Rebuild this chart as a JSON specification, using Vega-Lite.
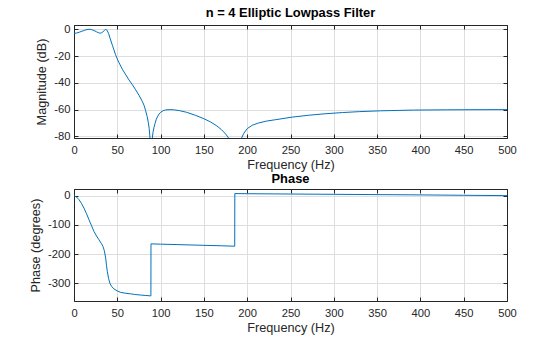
{
  "$schema": "https://vega.github.io/schema/vega-lite/v6.json",
  "padding": {"left": 29, "top": 6, "right": 5, "bottom": 0},
  "spacing": 0,
  "background": "white",
  "config": {
    "view": {"stroke": "#262626", "strokeWidth": 1},
    "font": "Liberation Sans",
    "axis": {
      "labelFont": "Liberation Sans", "titleFont": "Liberation Sans",
      "labelFontSize": 11.2, "titleFontSize": 12.7, "titleFontWeight": "normal",
      "labelColor": "#262626", "titleColor": "#262626",
      "domainColor": "#262626", "tickColor": "#262626", "domainWidth": 1, "tickWidth": 1,
      "gridColor": "#dedede", "gridWidth": 1,
      "tickSize": -4, "labelPadding": 8, "titlePadding": 3,
      "labelFlush": false,
      "labelExpr": "'' + datum.value"
    },
    "axisX": {"labelPadding": 10.5, "titlePadding": 3},
    "axisY": {"labelPadding": 8, "titlePadding": 5},
    "title": {"font": "Liberation Sans", "fontSize": 12.9, "fontWeight": "bold", "color": "#000000", "offset": 3, "anchor": "middle", "frame": "group"}
  },
  "datasets": {
    "mag": [
      {"f": 0, "db": -3.0}, {"f": 3, "db": -2.8}, {"f": 6, "db": -2.2}, {"f": 9, "db": -1.5},
      {"f": 12, "db": -0.8}, {"f": 15, "db": -0.2}, {"f": 17.5, "db": 0}, {"f": 20, "db": -0.2},
      {"f": 23, "db": -0.9}, {"f": 26, "db": -1.9}, {"f": 28.5, "db": -2.6}, {"f": 30.5, "db": -2.9},
      {"f": 32, "db": -2.6}, {"f": 33.5, "db": -1.8}, {"f": 35, "db": -0.9}, {"f": 36.6, "db": -0.1},
      {"f": 37.5, "db": -0.3}, {"f": 38.5, "db": -1.2}, {"f": 40, "db": -3.3}, {"f": 42.3, "db": -8},
      {"f": 44.3, "db": -11.9}, {"f": 46.1, "db": -15.4}, {"f": 48, "db": -19}, {"f": 50, "db": -22.2},
      {"f": 52, "db": -25}, {"f": 55.8, "db": -29.8}, {"f": 60, "db": -34.2}, {"f": 63.5, "db": -37.8},
      {"f": 67.5, "db": -41.5}, {"f": 71.2, "db": -45.2}, {"f": 75, "db": -49.2}, {"f": 78.9, "db": -53.9},
      {"f": 81, "db": -57}, {"f": 82.7, "db": -60.8}, {"f": 84.5, "db": -65.2}, {"f": 85.8, "db": -69.5},
      {"f": 86.8, "db": -74}, {"f": 87.5, "db": -79}, {"f": 88.2, "db": -86}, {"f": 88.9, "db": -100},
      {"f": 89.6, "db": -88}, {"f": 90.4, "db": -81.5}, {"f": 91.2, "db": -77}, {"f": 92.3, "db": -73.5},
      {"f": 93.5, "db": -70.5}, {"f": 95, "db": -67.2}, {"f": 97.5, "db": -64}, {"f": 100, "db": -62},
      {"f": 103, "db": -60.8}, {"f": 106, "db": -60.2}, {"f": 111, "db": -60}, {"f": 116, "db": -60.2},
      {"f": 122, "db": -60.8}, {"f": 130, "db": -62}, {"f": 140, "db": -64.2}, {"f": 150, "db": -66.8},
      {"f": 158, "db": -69.3}, {"f": 165, "db": -72.2}, {"f": 170, "db": -74.8}, {"f": 174, "db": -77.4},
      {"f": 177, "db": -79.8}, {"f": 179, "db": -81.8}, {"f": 181.5, "db": -85}, {"f": 183.5, "db": -90},
      {"f": 185.7, "db": -110}, {"f": 188, "db": -90}, {"f": 190.5, "db": -85}, {"f": 193.5, "db": -81.3},
      {"f": 196, "db": -77.8}, {"f": 200, "db": -74.2}, {"f": 206, "db": -71.6}, {"f": 213, "db": -70},
      {"f": 222, "db": -68.6}, {"f": 233, "db": -67.5}, {"f": 252, "db": -65.6}, {"f": 271, "db": -64.2},
      {"f": 290, "db": -63.1}, {"f": 310, "db": -62.2}, {"f": 330, "db": -61.5}, {"f": 354, "db": -60.9},
      {"f": 375, "db": -60.6}, {"f": 392, "db": -60.35}, {"f": 430, "db": -60.15}, {"f": 470, "db": -60.05},
      {"f": 500, "db": -60.0}
    ],
    "phase": [
      {"f": 0, "deg": 0}, {"f": 3, "deg": -5}, {"f": 5.8, "deg": -13.7}, {"f": 8.5, "deg": -26},
      {"f": 11.5, "deg": -42.6}, {"f": 14.5, "deg": -62}, {"f": 17.3, "deg": -82.4}, {"f": 20, "deg": -101},
      {"f": 23.1, "deg": -122.6}, {"f": 26, "deg": -138}, {"f": 28.8, "deg": -151}, {"f": 31.5, "deg": -163},
      {"f": 33.5, "deg": -174}, {"f": 35, "deg": -188}, {"f": 36.6, "deg": -214}, {"f": 37.6, "deg": -240},
      {"f": 38.5, "deg": -260}, {"f": 40, "deg": -284}, {"f": 41.5, "deg": -300}, {"f": 43.5, "deg": -311},
      {"f": 46.1, "deg": -319}, {"f": 50, "deg": -326}, {"f": 53.9, "deg": -331}, {"f": 60, "deg": -334},
      {"f": 65.4, "deg": -336}, {"f": 70, "deg": -338}, {"f": 76.9, "deg": -340}, {"f": 83, "deg": -341.5},
      {"f": 88.8, "deg": -343}, {"f": 88.9, "deg": -165}, {"f": 100, "deg": -166}, {"f": 120, "deg": -167.5},
      {"f": 150, "deg": -170}, {"f": 170, "deg": -171.5}, {"f": 185.6, "deg": -173}, {"f": 185.7, "deg": 7},
      {"f": 200, "deg": 6.6}, {"f": 250, "deg": 5.5}, {"f": 300, "deg": 4.5}, {"f": 350, "deg": 3.5},
      {"f": 400, "deg": 2.5}, {"f": 450, "deg": 1.2}, {"f": 500, "deg": 0}
    ]
  },
  "vconcat": [
    {
      "width": 433, "height": 113,
      "title": {"text": "n = 4 Elliptic Lowpass Filter"},
      "data": {"name": "mag"},
      "layer": [
        {
          "mark": {"type": "line", "clip": true, "color": "#0072BD", "strokeWidth": 1},
          "encoding": {
            "x": {"field": "f", "type": "quantitative", "scale": {"domain": [0, 500], "nice": false, "zero": false},
                  "axis": {"title": "Frequency (Hz)", "values": [0, 50, 100, 150, 200, 250, 300, 350, 400, 450, 500]}},
            "y": {"field": "db", "type": "quantitative", "scale": {"domain": [-81.2, 3.2], "nice": false, "zero": false},
                  "axis": {"title": "Magnitude (dB)", "values": [-80, -60, -40, -20, 0]}}
          }
        },
        {
          "mark": {"type": "line", "clip": true, "opacity": 0},
          "encoding": {
            "x": {"field": "f", "type": "quantitative",
                  "axis": {"orient": "top", "labels": false, "title": null, "grid": false, "values": [0, 50, 100, 150, 200, 250, 300, 350, 400, 450, 500]}},
            "y": {"field": "db", "type": "quantitative",
                  "axis": {"orient": "right", "labels": false, "title": null, "grid": false, "values": [-80, -60, -40, -20, 0]}}
          }
        }
      ],
      "resolve": {"axis": {"x": "independent", "y": "independent"}}
    },
    {
      "width": 433, "height": 112,
      "title": {"text": "Phase"},
      "data": {"name": "phase"},
      "layer": [
        {
          "mark": {"type": "line", "clip": true, "color": "#0072BD", "strokeWidth": 1},
          "encoding": {
            "x": {"field": "f", "type": "quantitative", "scale": {"domain": [0, 500], "nice": false, "zero": false},
                  "axis": {"title": "Frequency (Hz)", "values": [0, 50, 100, 150, 200, 250, 300, 350, 400, 450, 500]}},
            "y": {"field": "deg", "type": "quantitative", "scale": {"domain": [-360.4, 22.7], "nice": false, "zero": false},
                  "axis": {"title": "Phase (degrees)", "values": [-300, -200, -100, 0]}}
          }
        },
        {
          "mark": {"type": "line", "clip": true, "opacity": 0},
          "encoding": {
            "x": {"field": "f", "type": "quantitative",
                  "axis": {"orient": "top", "labels": false, "title": null, "grid": false, "values": [0, 50, 100, 150, 200, 250, 300, 350, 400, 450, 500]}},
            "y": {"field": "deg", "type": "quantitative",
                  "axis": {"orient": "right", "labels": false, "title": null, "grid": false, "values": [-300, -200, -100, 0]}}
          }
        }
      ],
      "resolve": {"axis": {"x": "independent", "y": "independent"}}
    }
  ]
}
